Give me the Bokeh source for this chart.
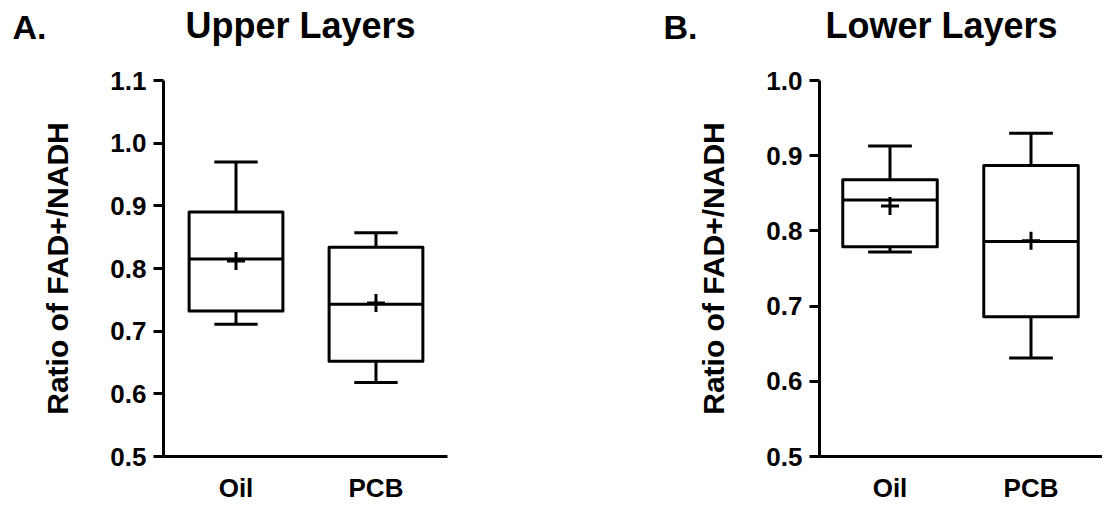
from bokeh.plotting import figure
from bokeh.layouts import row, column
from bokeh.models import Range1d, FixedTicker, Title, PrintfTickFormatter
from bokeh.embed import file_html
from bokeh.resources import INLINE

categories = ["Oil", "PCB"]

upper_min = [0.711, 0.618]
upper_q1 = [0.732, 0.652]
upper_median = [0.815, 0.743]
upper_q3 = [0.890, 0.834]
upper_max = [0.970, 0.857]
upper_mean = [0.812, 0.745]
upper_ticks = [0.5, 0.6, 0.7, 0.8, 0.9, 1.0, 1.1]

lower_min = [0.772, 0.631]
lower_q1 = [0.779, 0.686]
lower_median = [0.841, 0.786]
lower_q3 = [0.868, 0.887]
lower_max = [0.913, 0.930]
lower_mean = [0.833, 0.787]
lower_ticks = [0.5, 0.6, 0.7, 0.8, 0.9, 1.0]

FONT = "Liberation Sans"
BOX_W = 0.67
CAP_W = 0.31
LW = 3
HEAD_TOP = 46     # header frame top; titles sit right above it
HEAD_FRAME = 1
TOP = 31          # main figure border above the plot frame
FRAME_H = 376
BOTTOM = 48


def header_fig(text, size, standoff, border_left, frame_w, offset):
    f = figure(frame_width=frame_w, frame_height=HEAD_FRAME, output_backend="svg",
               toolbar_location=None, x_axis_type=None, y_axis_type=None,
               min_border_left=border_left, min_border_right=0,
               min_border_top=HEAD_TOP, min_border_bottom=0,
               title=Title(text=text, align="left", offset=offset, standoff=standoff,
                           text_font=FONT, text_font_style="bold",
                           text_font_size=size, text_color="black"))
    f.outline_line_color = None
    f.grid.visible = False
    f.background_fill_color = "white"
    f.border_fill_color = "white"
    return f


def make_panel(mins, q1, med, q3, maxs, means, ticks,
               border_left, border_right, frame_w, x_start, x_end):
    xs = [i + 0.5 for i in range(len(categories))]
    p = figure(frame_width=frame_w, frame_height=FRAME_H, output_backend="svg",
               toolbar_location=None,
               x_range=Range1d(x_start, x_end), y_range=Range1d(ticks[0], ticks[-1]),
               min_border_left=border_left, min_border_right=border_right,
               min_border_top=TOP, min_border_bottom=BOTTOM)
    p.outline_line_color = None
    p.grid.visible = False
    p.background_fill_color = "white"
    p.border_fill_color = "white"

    left = [x - BOX_W / 2 for x in xs]
    right = [x + BOX_W / 2 for x in xs]
    p.quad(left=left, right=right, bottom=q1, top=q3, fill_color=None,
           line_color="black", line_width=LW, line_join="round")
    p.segment(x0=left, x1=right, y0=med, y1=med, line_color="black", line_width=LW)
    p.segment(x0=xs, x1=xs, y0=q3, y1=maxs, line_color="black", line_width=LW)
    p.segment(x0=xs, x1=xs, y0=q1, y1=mins, line_color="black", line_width=LW)
    cl = [x - CAP_W / 2 for x in xs]
    cr = [x + CAP_W / 2 for x in xs]
    p.segment(x0=cl, x1=cr, y0=maxs, y1=maxs, line_color="black", line_width=LW)
    p.segment(x0=cl, x1=cr, y0=mins, y1=mins, line_color="black", line_width=LW)
    p.scatter(x=xs, y=means, marker="cross", size=18, line_color="black", line_width=LW)

    ya = p.yaxis[0]
    ya.ticker = FixedTicker(ticks=ticks)
    ya.formatter = PrintfTickFormatter(format="%.1f")
    ya.minor_tick_line_color = None
    ya.major_tick_in = 0
    ya.major_tick_out = 10
    ya.major_tick_line_width = LW
    ya.axis_line_width = LW
    ya.axis_line_color = "black"
    ya.major_tick_line_color = "black"
    ya.major_label_text_font = FONT
    ya.major_label_text_font_style = "bold"
    ya.major_label_text_font_size = "26px"
    ya.major_label_text_color = "black"
    ya.major_label_standoff = 7
    ya.axis_label = "Ratio of FAD+/NADH"
    ya.axis_label_text_font = FONT
    ya.axis_label_text_font_style = "bold"
    ya.axis_label_text_font_size = "30px"
    ya.axis_label_text_color = "black"
    ya.axis_label_standoff = 33

    xa = p.xaxis[0]
    xa.ticker = FixedTicker(ticks=xs)
    xa.major_label_overrides = {x: c for x, c in zip(xs, categories)}
    xa.minor_tick_line_color = None
    xa.major_tick_line_color = None
    xa.axis_line_width = LW
    xa.axis_line_color = "black"
    xa.major_label_text_font = FONT
    xa.major_label_text_font_style = "bold"
    xa.major_label_text_font_size = "26px"
    xa.major_label_text_color = "black"
    xa.major_label_standoff = 10
    return p


hA = header_fig("A.", "34px", 5.6, 12, 151, 0)
hT1 = header_fig("Upper Layers", "36px", 4.8, 0, 397, 22)
hB = header_fig("B.", "34px", 5.6, 0, 259, 103)
hT2 = header_fig("Lower Layers", "36px", 4.8, 0, 283, 6)

p1 = make_panel(upper_min, upper_q1, upper_median, upper_q3,
                upper_max, upper_mean, upper_ticks,
                border_left=163, border_right=20, frame_w=284,
                x_start=-0.018, x_end=2.011)
p2 = make_panel(lower_min, lower_q1, lower_median, lower_q3,
                lower_max, lower_mean, lower_ticks,
                border_left=352, border_right=0, frame_w=283,
                x_start=0.0, x_end=2.007)

layout = column(row(hA, hT1, hB, hT2), row(p1, p2))
open("out.html", "w").write(file_html(layout, INLINE))
